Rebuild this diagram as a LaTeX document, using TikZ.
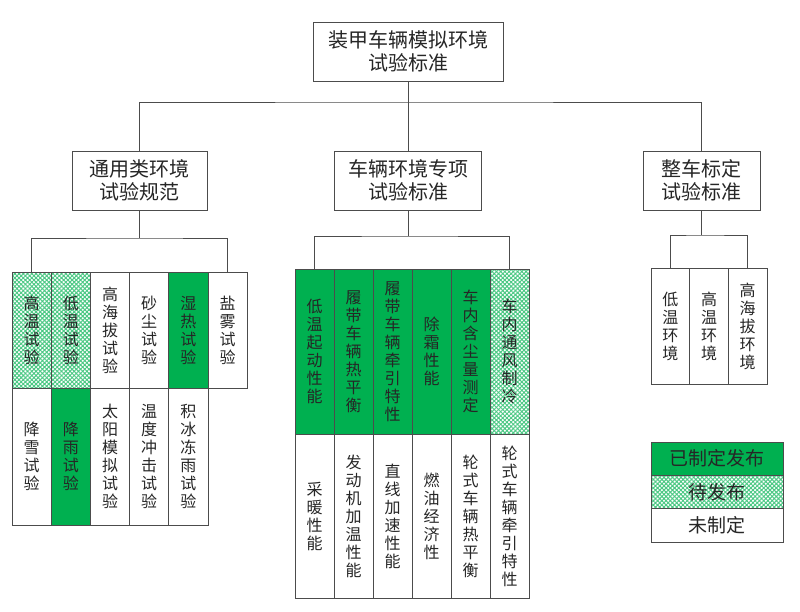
\documentclass[tikz,border=0pt]{standalone}
\usepackage{fontspec}
\setmainfont{Noto Sans CJK SC}
\usetikzlibrary{patterns.meta}
\definecolor{stdgreen}{HTML}{00B050}

\tikzset{
  box/.style={draw=black!70,line width=0.8pt,fill=white,align=center,inner sep=0pt,text=black!85,font=\fontsize{20}{23}\selectfont},
  cell/.style={draw=black!70,line width=0.8pt,align=center,inner sep=0pt,text=black!85,font=\fontsize{16}{18}\selectfont},
  done/.style={fill=stdgreen},
  pend/.style={pattern={Hatch[angle=45,distance=3pt,line width=1pt]},pattern color=stdgreen!70},
  link/.style={draw=black!70,line width=0.8pt}
}

\begin{document}
\begin{tikzpicture}[x=1pt,y=-1pt]
\useasboundingbox (0,0) rectangle (800,611);

% top levels
\node[box,minimum width=190,minimum height=59] (root) at (408,51.5) {装甲车辆模拟环境\\试验标准};
\node[box,minimum width=135,minimum height=59] (gen) at (139.5,180.5) {通用类环境\\试验规范};
\node[box,minimum width=147,minimum height=59] (veh) at (408,180.5) {车辆环境专项\\试验标准};
\node[box,minimum width=117,minimum height=59] (whole) at (701.5,180.5) {整车标定\\试验标准};
\coordinate (busT) at (408,102);
\draw[link] (root.south) -- (veh.north);
\draw[link] (gen.north) |- (busT) -| (whole.north);

% general tests
\node[cell,pend,minimum width=39.2,minimum height=116] (lt1) at (31.6,330) {高\\温\\试\\验};
\node[cell,pend,minimum width=39.2,minimum height=116] (lt2) at (70.8,330) {低\\温\\试\\验};
\node[cell,minimum width=39.2,minimum height=116] (lt3) at (110,330) {高\\海\\拔\\试\\验};
\node[cell,minimum width=39.2,minimum height=116] (lt4) at (149.2,330) {砂\\尘\\试\\验};
\node[cell,done,minimum width=39.2,minimum height=116] (lt5) at (188.4,330) {湿\\热\\试\\验};
\node[cell,minimum width=39.2,minimum height=116] (lt6) at (227.6,330) {盐\\雾\\试\\验};
\node[cell,minimum width=39.2,minimum height=137] (lb1) at (31.6,456.5) {降\\雪\\试\\验};
\node[cell,done,minimum width=39.2,minimum height=137] (lb2) at (70.8,456.5) {降\\雨\\试\\验};
\node[cell,minimum width=39.2,minimum height=137] (lb3) at (110,456.5) {太\\阳\\模\\拟\\试\\验};
\node[cell,minimum width=39.2,minimum height=137] (lb4) at (149.2,456.5) {温\\度\\冲\\击\\试\\验};
\node[cell,minimum width=39.2,minimum height=137] (lb5) at (188.4,456.5) {积\\冰\\冻\\雨\\试\\验};
\coordinate (busL) at (139.5,238);
\draw[link] (gen.south) -- (busL);
\draw[link] (lt1.north) |- (busL) -| (lt6.north);

% vehicle tests
\node[cell,done,minimum width=39,minimum height=165] (mt1) at (314.5,351.5) {低\\温\\起\\动\\性\\能};
\node[cell,done,minimum width=39,minimum height=165] (mt2) at (353.5,351.5) {履\\带\\车\\辆\\热\\平\\衡};
\node[cell,done,minimum width=39,minimum height=165] (mt3) at (392.5,351.5) {履\\带\\车\\辆\\牵\\引\\特\\性};
\node[cell,done,minimum width=39,minimum height=165] (mt4) at (431.5,351.5) {除\\霜\\性\\能};
\node[cell,done,minimum width=39,minimum height=165] (mt5) at (470.5,351.5) {车\\内\\含\\尘\\量\\测\\定};
\node[cell,pend,minimum width=39,minimum height=165] (mt6) at (509.5,351.5) {车\\内\\通\\风\\制\\冷};
\node[cell,minimum width=39,minimum height=164] (mb1) at (314.5,516) {采\\暖\\性\\能};
\node[cell,minimum width=39,minimum height=164] (mb2) at (353.5,516) {发\\动\\机\\加\\温\\性\\能};
\node[cell,minimum width=39,minimum height=164] (mb3) at (392.5,516) {直\\线\\加\\速\\性\\能};
\node[cell,minimum width=39,minimum height=164] (mb4) at (431.5,516) {燃\\油\\经\\济\\性};
\node[cell,minimum width=39,minimum height=164] (mb5) at (470.5,516) {轮\\式\\车\\辆\\热\\平\\衡};
\node[cell,minimum width=39,minimum height=164] (mb6) at (509.5,516) {轮\\式\\车\\辆\\牵\\引\\特\\性};
\coordinate (busM) at (408,236);
\draw[link] (veh.south) -- (busM);
\draw[link] (mt1.north) |- (busM) -| (mt6.north);

% whole vehicle
\node[cell,minimum width=38.7,minimum height=116] (r1) at (670.3,326) {低\\温\\环\\境};
\node[cell,minimum width=38.7,minimum height=116] (r2) at (709,326) {高\\温\\环\\境};
\node[cell,minimum width=38.7,minimum height=116] (r3) at (747.7,326) {高\\海\\拔\\环\\境};
\coordinate (busR) at (701.5,235);
\draw[link] (whole.south) -- (busR);
\draw[link] (r1.north) |- (busR) -| (r3.north);

% legend
\node[cell,done,minimum width=132,minimum height=33.3,font=\fontsize{19}{22}\selectfont] (lg1) at (717,458.7) {已制定发布};
\node[cell,pend,minimum width=132,minimum height=33.3,font=\fontsize{19}{22}\selectfont] (lg2) at (717,492) {待发布};
\node[cell,minimum width=132,minimum height=33.3,font=\fontsize{19}{22}\selectfont] (lg3) at (717,525.3) {未制定};

\end{tikzpicture}
\end{document}
